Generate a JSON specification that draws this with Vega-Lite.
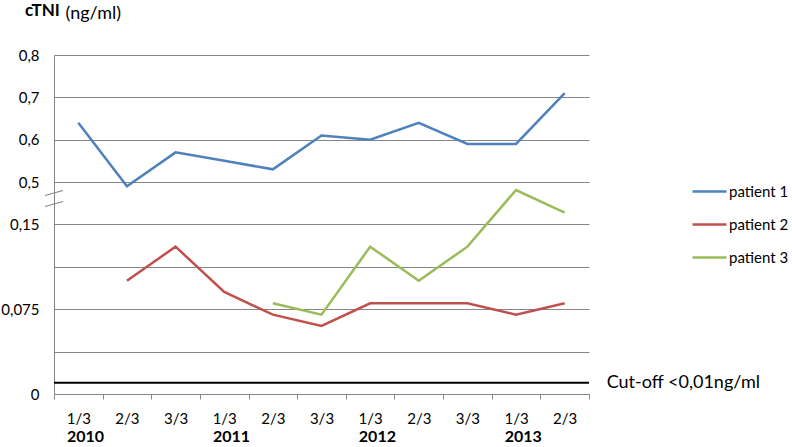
{
  "$schema": "https://vega.github.io/schema/vega-lite/v6.json",
  "width": 535,
  "height": 339,
  "autosize": {"type": "none"},
  "padding": {"left": 54, "top": 55, "right": 203, "bottom": 53},
  "background": "white",
  "title": {"text": "cTNI", "anchor": "start", "frame": "group", "fontSize": 17, "font": "Lato", "fontWeight": "bold", "color": "#000", "dx": -29, "offset": 0, "dy": 16},
  "config": {"view": {"stroke": null}, "font": "Lato"},
  "datasets": {
    "readings": [
      {"period": "2010 1/3", "patient": "patient 1", "value": 0.64},
      {"period": "2010 2/3", "patient": "patient 1", "value": 0.49},
      {"period": "2010 3/3", "patient": "patient 1", "value": 0.57},
      {"period": "2011 1/3", "patient": "patient 1", "value": 0.55},
      {"period": "2011 2/3", "patient": "patient 1", "value": 0.53},
      {"period": "2011 3/3", "patient": "patient 1", "value": 0.61},
      {"period": "2012 1/3", "patient": "patient 1", "value": 0.60},
      {"period": "2012 2/3", "patient": "patient 1", "value": 0.64},
      {"period": "2012 3/3", "patient": "patient 1", "value": 0.59},
      {"period": "2013 1/3", "patient": "patient 1", "value": 0.59},
      {"period": "2013 2/3", "patient": "patient 1", "value": 0.71},
      {"period": "2010 2/3", "patient": "patient 2", "value": 0.10},
      {"period": "2010 3/3", "patient": "patient 2", "value": 0.13},
      {"period": "2011 1/3", "patient": "patient 2", "value": 0.09},
      {"period": "2011 2/3", "patient": "patient 2", "value": 0.07},
      {"period": "2011 3/3", "patient": "patient 2", "value": 0.06},
      {"period": "2012 1/3", "patient": "patient 2", "value": 0.08},
      {"period": "2012 2/3", "patient": "patient 2", "value": 0.08},
      {"period": "2012 3/3", "patient": "patient 2", "value": 0.08},
      {"period": "2013 1/3", "patient": "patient 2", "value": 0.07},
      {"period": "2013 2/3", "patient": "patient 2", "value": 0.08},
      {"period": "2011 2/3", "patient": "patient 3", "value": 0.08},
      {"period": "2011 3/3", "patient": "patient 3", "value": 0.07},
      {"period": "2012 1/3", "patient": "patient 3", "value": 0.13},
      {"period": "2012 2/3", "patient": "patient 3", "value": 0.10},
      {"period": "2012 3/3", "patient": "patient 3", "value": 0.13},
      {"period": "2013 1/3", "patient": "patient 3", "value": 0.18},
      {"period": "2013 2/3", "patient": "patient 3", "value": 0.16}
    ],
    "cutoff": [
      {"period": "2013 2/3", "value": 0.01, "label": "Cut-off <0,01ng/ml"}
    ]
  },
  "layer": [
    {
      "data": {"name": "cutoff"},
      "mark": {"type": "rule", "color": "#000", "strokeWidth": 2},
      "encoding": {"y": {"field": "value", "type": "quantitative"}}
    },
    {
      "data": {"name": "readings"},
      "mark": {"type": "line", "strokeWidth": 2.5},
      "encoding": {
        "x": {
          "field": "period", "type": "ordinal",
          "scale": {"type": "band", "paddingInner": 0, "paddingOuter": 0,
            "domain": ["2010 1/3","2010 2/3","2010 3/3","2011 1/3","2011 2/3","2011 3/3","2012 1/3","2012 2/3","2012 3/3","2013 1/3","2013 2/3"]},
          "axis": {"orient": "bottom", "tickBand": "extent", "title": null, "grid": false,
            "labelExpr": "split(datum.value, ' ')[1]", "labelAngle": 0, "labelAlign": "center", "labelBaseline": "top",
            "labelFontSize": 15, "labelColor": "#000", "labelPadding": 12, "labelOverlap": false, "labelFlush": false,
            "tickSize": 5, "tickColor": "#868686", "domainColor": "#868686"}
        },
        "y": {
          "field": "value", "type": "quantitative",
          "scale": {"domain": [0, 0.18, 0.49, 0.8], "range": [339, 135, 131.24, 0], "nice": false, "zero": false},
          "axis": {"values": [0, 0.0375, 0.075, 0.1125, 0.15, 0.5, 0.6, 0.7, 0.8],
            "labelExpr": "(datum.value == 0.0375 || datum.value == 0.1125) ? '' : replace(toString(datum.value), '.', ',')",
            "grid": true, "gridColor": "#868686", "ticks": false, "domainColor": "#868686",
            "labelPadding": 15, "labelFontSize": 15, "labelColor": "#000", "labelOverlap": false, "labelFlush": false, "labelBound": false,
            "title": "(ng/ml)", "titleAngle": 0, "titleAlign": "left", "titleBaseline": "middle", "titleX": 11, "titleY": -42,
            "titleFontSize": 18, "titleFontWeight": "normal", "titleColor": "#000"}
        },
        "color": {
          "field": "patient", "type": "nominal",
          "scale": {"domain": ["patient 1", "patient 2", "patient 3"], "range": ["#4F81BD", "#C0504D", "#9BBB59"]},
          "legend": {"orient": "none", "legendX": 637, "legendY": 118, "title": null, "symbolType": "stroke",
            "symbolSize": 1156, "symbolStrokeWidth": 2.5, "labelFontSize": 15, "labelOffset": 1, "rowPadding": 6, "labelColor": "#000"}
        }
      }
    },
    {
      "data": {"name": "cutoff"},
      "mark": {"type": "text", "align": "left", "baseline": "middle", "dx": 42, "fontSize": 18, "color": "#000"},
      "encoding": {
        "x": {"field": "period", "type": "ordinal",
          "axis": {"orient": "bottom", "title": null, "grid": false, "domain": false, "ticks": false,
            "labelExpr": "indexof(datum.value, '1/3') > 0 ? split(datum.value, ' ')[0] : ''",
            "labelAngle": 0, "labelAlign": "left", "labelBaseline": "top", "labelOffset": -11.3, "labelFontSize": 16, "labelFontWeight": "bold",
            "labelColor": "#000", "labelPadding": 34, "labelOverlap": false, "labelFlush": false}},
        "y": {"field": "value", "type": "quantitative"},
        "text": {"field": "label"}
      }
    },
    {
      "data": {"values": [{"marker": "break", "value": 0.1725}]},
      "mark": {"type": "point", "shape": "M-1,-0.33L1,-0.89M-1,0.89L1,0.33", "size": 324, "filled": false, "color": "#868686", "strokeWidth": 1.2, "opacity": 1},
      "encoding": {
        "x": {"value": 0},
        "y": {"field": "value", "type": "quantitative"}
      }
    }
  ],
  "resolve": {"axis": {"x": "independent"}}
}
